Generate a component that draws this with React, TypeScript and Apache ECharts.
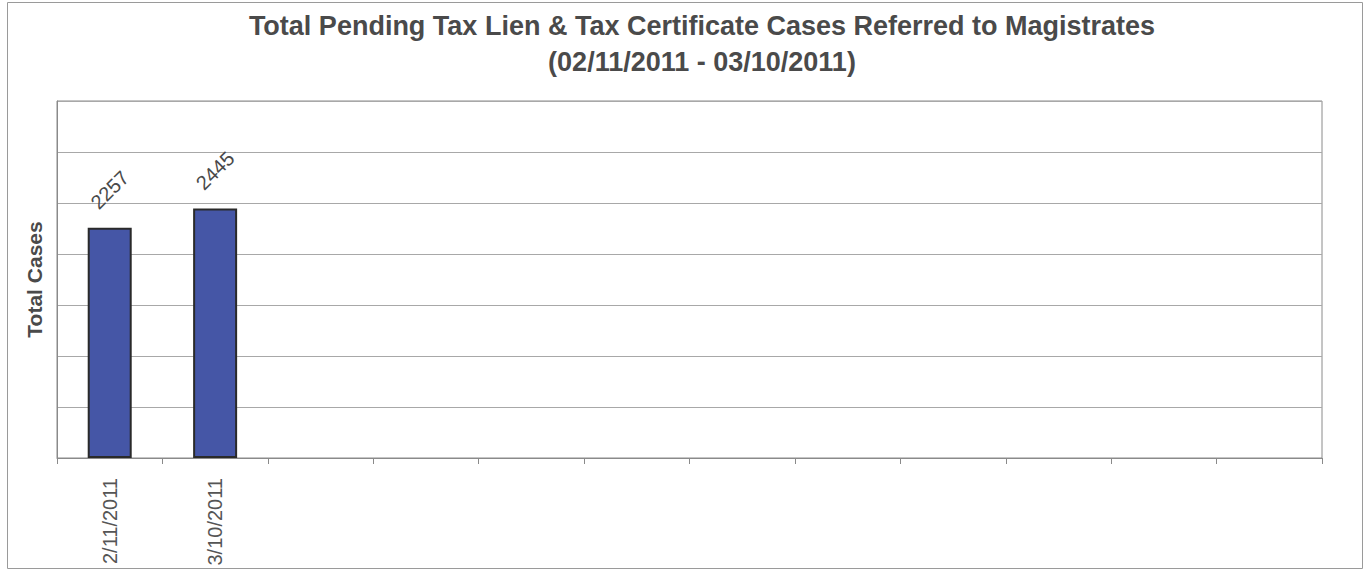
import React, { useEffect, useRef } from "react";
import * as echarts from "echarts";

const titleLines = [
  "Total Pending Tax Lien & Tax Certificate Cases Referred to Magistrates",
  "(02/11/2011 - 03/10/2011)",
];
const categories = ["2/11/2011", "3/10/2011", "", "", "", "", "", "", "", "", "", ""];
const values = [2257, 2445];
const yAxisName = "Total Cases";

export default function App() {
  const ref = useRef<HTMLDivElement>(null);
  useEffect(() => {
    if (!ref.current) return;
    const chart = echarts.init(ref.current, null, { renderer: "svg" });
    chart.setOption({
      animation: false,
      backgroundColor: "#ffffff",
      title: {
        text: titleLines.join("\n"),
        left: 697,
        top: 3,
        textAlign: "center",
        textStyle: {
          fontFamily: "Liberation Sans, Arial, sans-serif",
          fontSize: 27,
          fontWeight: "bold",
          color: "#4a4a4a",
          lineHeight: 36,
        },
      },
      graphic: [
        {
          type: "rect",
          shape: { x: 7.5, y: 2.5, width: 1355, height: 566 },
          style: { fill: "none", stroke: "#9a9a9a", lineWidth: 1 },
          silent: true,
        },
      ],
      grid: {
        left: 57,
        right: 42,
        top: 101,
        bottom: 113,
        outerBoundsMode: "none",
        containLabel: false,
        show: true,
        borderColor: "#8a8a8a",
        borderWidth: 1,
        backgroundColor: "#ffffff",
      },
      xAxis: {
        type: "category",
        data: categories,
        boundaryGap: true,
        axisLine: { show: true, lineStyle: { color: "#8a8a8a", width: 1 } },
        axisTick: { show: true, alignWithLabel: false, length: 6, lineStyle: { color: "#8a8a8a" } },
        axisLabel: {
          rotate: 90,
          interval: 0,
          margin: 20,
          fontFamily: "Liberation Sans, Arial, sans-serif",
          fontSize: 20,
          color: "#555555",
        },
      },
      yAxis: {
        type: "value",
        min: 0,
        max: 3500,
        interval: 500,
        name: yAxisName,
        nameLocation: "middle",
        nameGap: 12,
        nameTextStyle: {
          fontFamily: "Liberation Sans, Arial, sans-serif",
          fontSize: 21,
          fontWeight: "bold",
          color: "#4a4a4a",
        },
        axisLine: { show: true, lineStyle: { color: "#8a8a8a" } },
        axisTick: { show: false },
        axisLabel: { show: false },
        splitLine: { show: true, lineStyle: { color: "#a8a8a8", width: 1 } },
      },
      series: [
        {
          type: "bar",
          data: values,
          barWidth: 44,
          itemStyle: { color: "#4556a6", borderColor: "#2a2a2a", borderWidth: 2 },
          label: {
            show: true,
            position: "top",
            distance: 38,
            rotate: 45,
            align: "center",
            verticalAlign: "middle",
            fontFamily: "Liberation Sans, Arial, sans-serif",
            fontSize: 20,
            color: "#4a4a4a",
          },
        },
      ],
    });
    return () => chart.dispose();
  }, []);
  return (
    <div
      ref={ref}
      style={{ position: "absolute", left: 0, top: 0, width: 1364, height: 571, overflow: "hidden" }}
    />
  );
}
